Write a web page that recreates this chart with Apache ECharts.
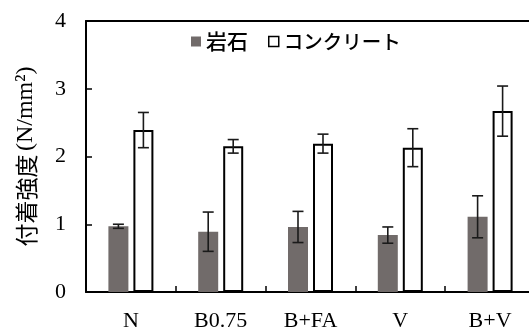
<!DOCTYPE html>
<html>
<head>
<meta charset="utf-8">
<style>
  html, body { margin: 0; padding: 0; background: #fff; overflow: hidden; }
  /* canvas is a few pixels wider than the window so the plot frame runs off the right edge */
  #chart { width: 536px; height: 327px; }
</style>
<script src="https://cdn.jsdelivr.net/npm/echarts@6/dist/echarts.min.js"></script>
</head>
<body>
<div id="chart"></div>
<script>
// Bond strength per mix: rock vs. concrete substrate, with standard deviations
const categories = ['N', 'B0.75', 'B+FA', 'V', 'B+V'];
const rockValues = [0.97, 0.89, 0.96, 0.84, 1.11];
const rockErrors = [0.03, 0.29, 0.23, 0.12, 0.31];
const concreteValues = [2.39, 2.15, 2.19, 2.13, 2.67];
const concreteErrors = [0.26, 0.10, 0.14, 0.28, 0.37];
const yTicks = [0, 1, 2, 3, 4];

const BAR_W = 20;
const BAR_GAP = 5;
const SERIF = '"Liberation Serif", "Times New Roman", serif';
const SANS_JP = '"Noto Sans CJK JP", sans-serif';

// Whisker for each bar, drawn at the bar's own centre through the value axis
function errorSeries(values, errors, side) {
  return {
    type: 'custom',
    z: 10,
    silent: true,
    data: values.map((v, i) => [i, v, errors[i]]),
    renderItem: function (params, api) {
      const i = api.value(0), v = api.value(1), e = api.value(2);
      const centre = api.coord([i, v]);
      const x = centre[0] + side * (BAR_W + BAR_GAP) / 2;
      const top = api.coord([i, v + e])[1];
      const bottom = api.coord([i, v - e])[1];
      const cap = 5.5;
      const style = { stroke: '#1a1a1a', lineWidth: 1.6 };
      return {
        type: 'group',
        children: [
          { type: 'line', shape: { x1: x, y1: top, x2: x, y2: bottom }, style: style },
          { type: 'line', shape: { x1: x - cap, y1: top, x2: x + cap, y2: top }, style: style },
          { type: 'line', shape: { x1: x - cap, y1: bottom, x2: x + cap, y2: bottom }, style: style }
        ]
      };
    }
  };
}

const chart = echarts.init(document.getElementById('chart'), null, { renderer: 'canvas' });
chart.setOption({
  animation: false,
  backgroundColor: '#fff',
  grid: {
    left: 86, top: 21, right: 1, bottom: 35,
    containLabel: false,
    outerBoundsMode: 'none',
    show: false
  },
  legend: {
    left: 191, top: 31, padding: 0,
    itemWidth: 10, itemHeight: 10, itemGap: 20,
    icon: 'rect',
    data: [
      { name: '岩石', itemStyle: { color: '#716b6a', borderWidth: 0 } },
      { name: 'コンクリート', itemStyle: { color: '#fff', borderColor: '#000', borderWidth: 1.5 } }
    ],
    formatter: function (name) {
      return name === '岩石' ? '{a|' + name + '}' : '{b|' + name + '}';
    },
    textStyle: {
      rich: {
        a: { fontFamily: SANS_JP, fontSize: 21, fontWeight: 500, color: '#000' },
        b: { fontFamily: SANS_JP, fontSize: 19.5, fontWeight: 500, color: '#000' }
      }
    }
  },
  xAxis: [
    {
      type: 'category',
      data: categories,
      axisLine: { lineStyle: { color: '#000', width: 2 } },
      axisTick: { show: true, inside: true, length: 6, lineStyle: { color: '#000', width: 1.5 } },
      axisLabel: { fontFamily: SERIF, fontSize: 22, color: '#000', margin: 18 },
      splitLine: { show: false }
    },
    {
      // top frame line of the plot area
      type: 'category',
      position: 'top',
      data: categories,
      axisLine: { show: true, lineStyle: { color: '#000', width: 2 } },
      axisTick: { show: false },
      axisLabel: { show: false },
      splitLine: { show: false }
    }
  ],
  yAxis: {
    type: 'value',
    min: yTicks[0], max: yTicks[yTicks.length - 1], interval: 1,
    name: '{a|付着強度} {b|(N/mm²)}',
    nameLocation: 'middle',
    nameGap: 48,
    nameTextStyle: {
      rich: {
        a: { fontFamily: SANS_JP, fontSize: 23, color: '#000' },
        b: { fontFamily: SERIF, fontSize: 24, color: '#000' }
      }
    },
    axisLine: { show: true, lineStyle: { color: '#000', width: 2 } },
    axisTick: { show: true, inside: true, length: 6, lineStyle: { color: '#000', width: 1.5 } },
    axisLabel: { fontFamily: SERIF, fontSize: 22, color: '#000', margin: 20 },
    splitLine: { show: false }
  },
  series: [
    {
      name: '岩石',
      type: 'bar',
      data: rockValues,
      barWidth: BAR_W,
      barGap: (BAR_GAP / BAR_W * 100) + '%',
      itemStyle: { color: '#716b6a' }
    },
    {
      name: 'コンクリート',
      type: 'bar',
      data: concreteValues,
      barWidth: BAR_W,
      itemStyle: { color: '#fff', borderColor: '#000', borderWidth: 2 }
    },
    errorSeries(rockValues, rockErrors, -1),
    errorSeries(concreteValues, concreteErrors, 1)
  ]
});
</script>
</body>
</html>
